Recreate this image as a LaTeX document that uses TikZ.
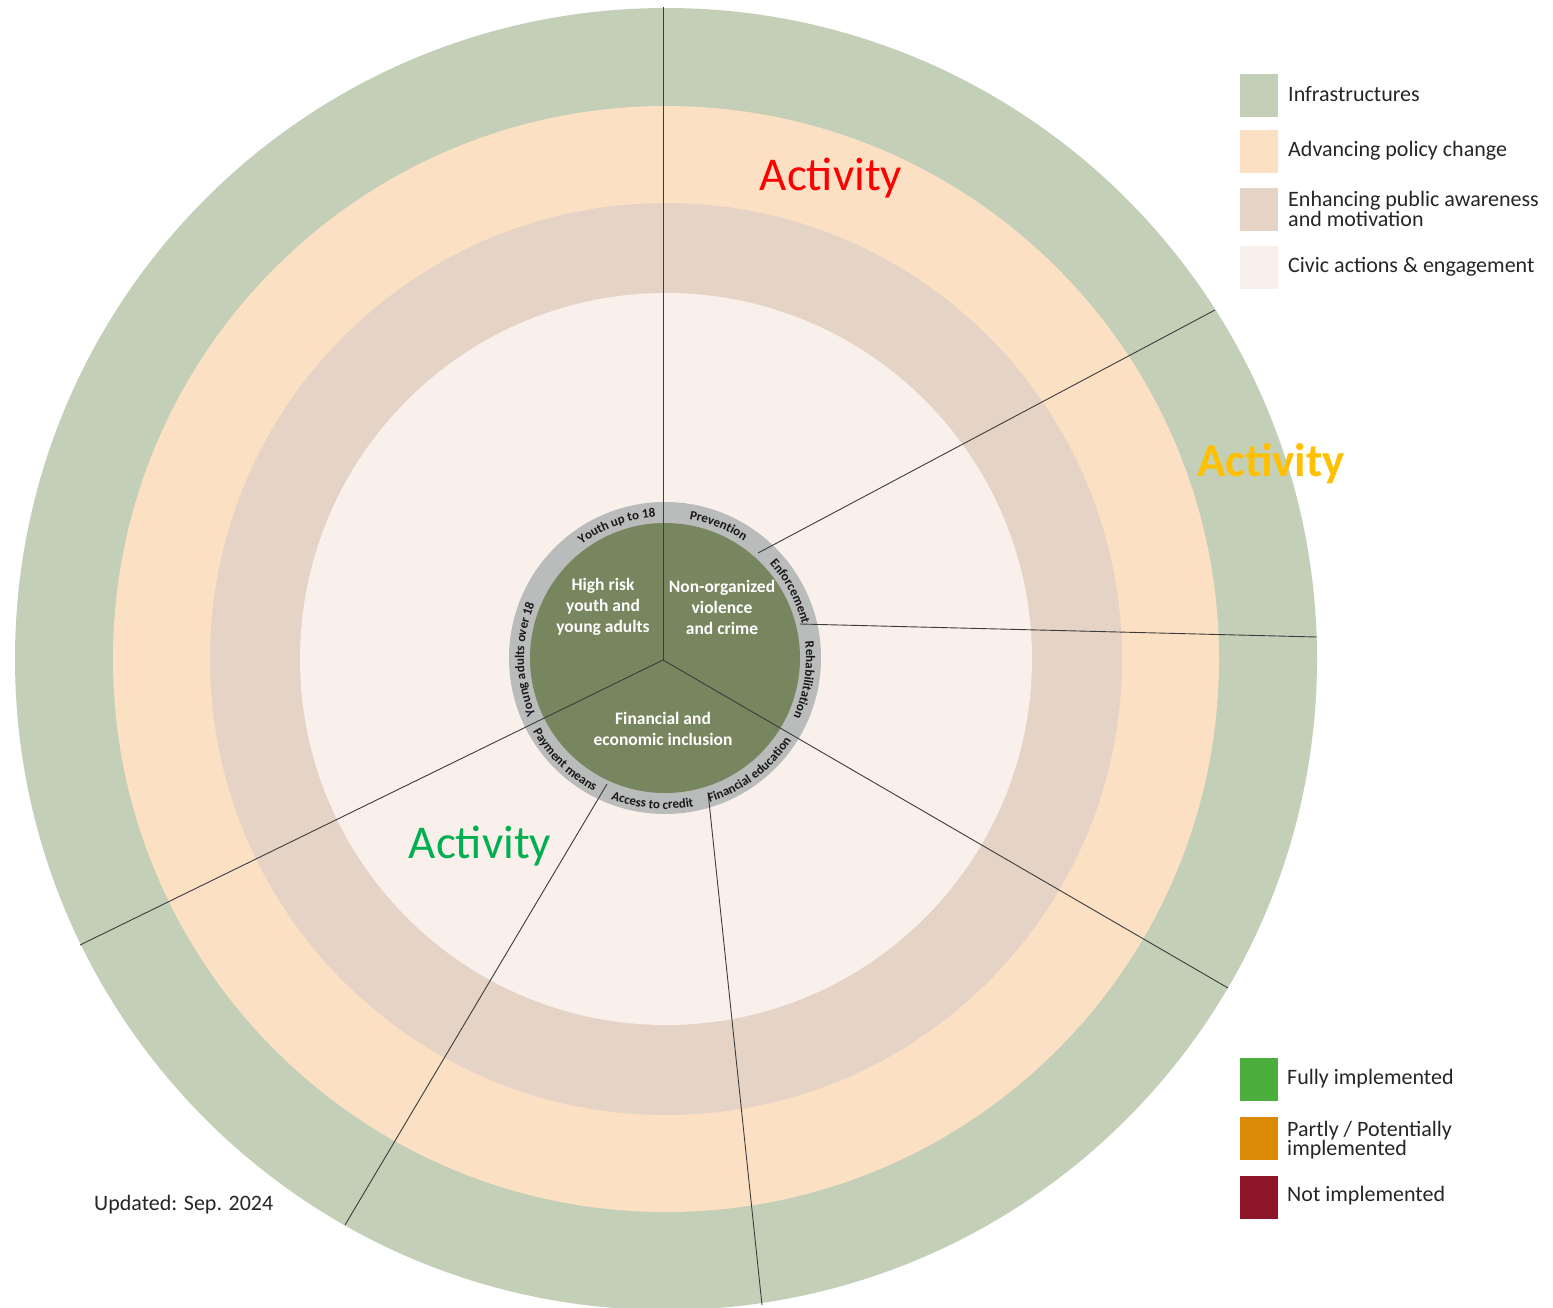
\documentclass[tikz,border=0pt]{standalone}
\usepackage{fontspec}
\setmainfont{Carlito}
\usetikzlibrary{decorations.text,calc}
\definecolor{infra}{HTML}{C4CFB8}
\definecolor{policy}{HTML}{FBE0C4}
\definecolor{aware}{HTML}{E5D3C5}
\definecolor{civic}{HTML}{F9EFEB}
\definecolor{core}{HTML}{78865F}
\definecolor{ringgray}{HTML}{B9BCBA}
\definecolor{sepline}{HTML}{3C3C3C}
\definecolor{fullg}{HTML}{4CAE3C}
\definecolor{partly}{HTML}{DA8A07}
\definecolor{notimp}{HTML}{8C1528}
\definecolor{actred}{HTML}{FF0000}
\definecolor{actyel}{HTML}{FFC000}
\definecolor{actgrn}{HTML}{00B050}
\newcommand\ringfnt{\bfseries\fontsize{13}{14}\selectfont}
\tikzset{
  sepl/.style={draw=sepline, line width=0.9pt},
  ringlbl/.style={decorate, decoration={text along path, text align=center, text color=black!90, text={|\ringfnt|#1}}},
  legsq/.style={minimum width=38pt, minimum height=43pt, inner sep=0pt, draw=none},
  legtxt/.style={anchor=west, inner sep=0pt, align=left, text=black!85, font=\fontsize{22}{19}\selectfont},
  coretxt/.style={align=center, text=white, inner sep=0pt, font=\bfseries\fontsize{17.5}{21}\selectfont},
  acttxt/.style={inner sep=0pt, font=\fontsize{47}{47}\selectfont}
}
\begin{document}
\begin{tikzpicture}[x=1pt,y=1pt]
\useasboundingbox (0,0) rectangle (1553,-1307);
\fill[white] (0,0) rectangle (1553,-1307);
\coordinate (C) at (666,-659);
\coordinate (C2) at (665,-658);
% rings
\fill[infra] (C) circle[radius=651pt];
\fill[policy] (C) circle[radius=553pt];
\fill[aware] (C) circle[radius=456pt];
\fill[civic] (C) circle[radius=366pt];
\fill[ringgray] (C2) circle[radius=156pt];
\fill[core] (C2) circle[radius=135pt];
% separators
\coordinate (J) at (663,-660);
\coordinate (e1) at (663,-7);
\coordinate (s2) at (758,-553);
\coordinate (e2) at (1215,-310);
\coordinate (s3) at (800,-624);
\coordinate (e3) at (1317,-637);
\coordinate (e4) at (1228,-988);
\coordinate (e5) at (80,-945);
\coordinate (s6) at (607,-784);
\coordinate (e6) at (345,-1225);
\coordinate (s7) at (708,-792);
\coordinate (e7) at (762,-1305);
\draw[sepl] (J) -- (e1);
\draw[sepl] (s2) -- (e2);
\draw[sepl] (s3) -- (e3);
\draw[sepl] (J) -- (e4);
\draw[sepl] (J) -- (e5);
\draw[sepl] (s6) -- (e6);
\draw[sepl] (s7) -- (e7);
% ring labels
\path[ringlbl={Youth up to 18}] ($(C2)+(145:141pt)$) arc[start angle=145, end angle=75, radius=141pt];
\path[ringlbl={Prevention}] ($(C2)+(99:141pt)$) arc[start angle=99, end angle=37, radius=141pt];
\path[ringlbl={Enforcement}] ($(C2)+(57:141pt)$) arc[start angle=57, end angle=-1, radius=141pt];
\path[ringlbl={Rehabilitation}] ($(C2)+(24:141pt)$) arc[start angle=24, end angle=-42, radius=141pt];
\path[ringlbl={Financial education}] ($(C2)+(-86:151pt)$) arc[start angle=-86, end angle=-20, radius=151pt];
\path[ringlbl={Access to credit}] ($(C2)+(-130:151pt)$) arc[start angle=-130, end angle=-60, radius=151pt];
\path[ringlbl={Payment means}] ($(C2)+(190:151pt)$) arc[start angle=190, end angle=261, radius=151pt];
\path[ringlbl={Young adults over 18}] ($(C2)+(215:141pt)$) arc[start angle=215, end angle=146, radius=141pt];
% core labels
\node[coretxt] (g1) at (603,-607) {High risk\\youth and\\young adults};
\node[coretxt] (g2) at (722,-607) {Non-organized\\violence\\and crime};
\node[coretxt] (g3) at (663,-729) {Financial and\\economic inclusion};
% activities
\node[acttxt, text=actred] (a1) at (831,-178) {Activity};
\node[acttxt, text=actyel, font=\bfseries\fontsize{47}{47}\selectfont] (a2) at (1271,-464) {Activity};
\node[acttxt, text=actgrn] (a3) at (480,-846) {Activity};
% legend
\node[legsq, fill=infra] (k1) at (1259,-95.5) {};
\node[legsq, fill=policy] (k2) at (1259,-151.5) {};
\node[legsq, fill=aware] (k3) at (1259,-209.5) {};
\node[legsq, fill=civic] (k4) at (1259,-267.5) {};
\node[legtxt] (l1) at (1288,-94) {Infrastructures};
\node[legtxt] (l2) at (1288,-151) {Advancing policy change};
\node[legtxt] (l3) at (1288,-209) {Enhancing public awareness\\and motivation};
\node[legtxt] (l4) at (1288,-267) {Civic actions \& engagement};
\node[legsq, fill=fullg] (m1) at (1259,-1079.5) {};
\node[legsq, fill=partly] (m2) at (1259,-1138.5) {};
\node[legsq, fill=notimp] (m3) at (1259,-1197.5) {};
\node[legtxt] (n1) at (1287,-1079) {Fully implemented};
\node[legtxt] (n2) at (1287,-1140) {Partly / Potentially\\implemented};
\node[legtxt] (n3) at (1287,-1196) {Not implemented};
\node[legtxt] (u1) at (94,-1205) {Updated: Sep. 2024};
\end{tikzpicture}
\end{document}
